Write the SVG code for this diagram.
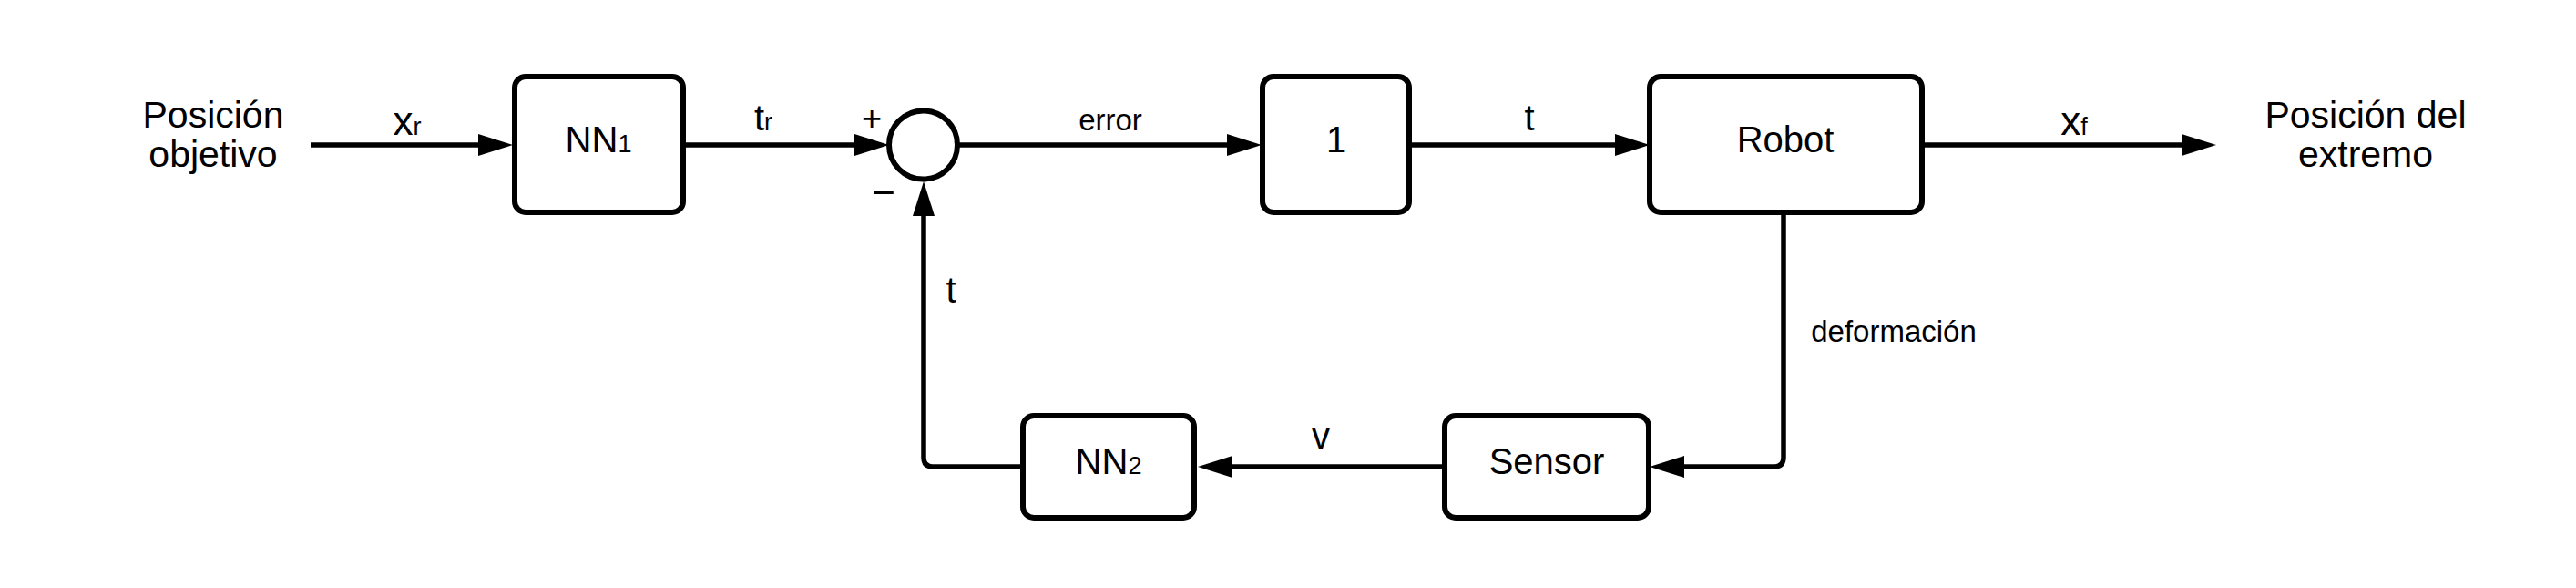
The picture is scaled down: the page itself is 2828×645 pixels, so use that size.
<svg xmlns="http://www.w3.org/2000/svg" width="2828" height="645" viewBox="0 0 2828 645">
  <style>
    text { font-family: "Liberation Sans", Arial, sans-serif; fill: #000; }
    .node rect, .node circle { fill: #fff; stroke: #000; stroke-width: 6; }
    .big { font-size: 41px; text-anchor: middle; }
    .nd { font-size: 40px; text-anchor: middle; }
    .lbl { font-size: 40px; text-anchor: middle; }
    .xl { font-size: 44px; text-anchor: middle; }
    .sm { font-size: 33px; text-anchor: middle; }
    .sub { font-size: 27px; }
    .conn path { fill: none; stroke: #000; stroke-width: 5.5; stroke-linejoin: round; }
  </style>
  <defs>
    <marker id="arr" markerUnits="userSpaceOnUse" markerWidth="40" markerHeight="26" refX="18" refY="12" orient="auto" viewBox="0 0 40 26">
      <path d="M0,0 L38,12 L0,24 z" fill="#000"/>
    </marker>
  </defs>
  <rect width="2828" height="645" fill="#fff"/>

  <g class="conn">
    <path d="M341,159 H543" marker-end="url(#arr)"/>
    <path d="M750,159 H956" marker-end="url(#arr)"/>
    <path d="M1051,159 H1365" marker-end="url(#arr)"/>
    <path d="M1547,159 H1791" marker-end="url(#arr)"/>
    <path d="M2110,159 H2413" marker-end="url(#arr)"/>
    <path d="M1958,233 V502 Q1958,512 1948,512 H1831" marker-end="url(#arr)"/>
    <path d="M1586,512 H1335" marker-end="url(#arr)"/>
    <path d="M1123,512 H1024 Q1014,512 1014,502 V219" marker-end="url(#arr)"/>
  </g>

  <g id="in-label">
    <text class="big" x="234" y="140">Posición</text>
    <text class="big" x="234" y="183">objetivo</text>
  </g>
  <g id="out-label">
    <text class="big" x="2597" y="140">Posición del</text>
    <text class="big" x="2597" y="183">extremo</text>
  </g>

  <g id="nn1" class="node">
    <rect x="565" y="84" width="185" height="149" rx="12"/>
    <text class="nd" x="657" y="167">NN<tspan class="sub">1</tspan></text>
  </g>
  <g id="sum" class="node">
    <circle cx="1013.5" cy="159" r="37.5"/>
    <text class="lbl" x="957" y="143" style="font-size:38px">+</text>
    <text class="lbl" x="970" y="226" style="font-size:44px">−</text>
  </g>
  <g id="gain" class="node">
    <rect x="1386" y="84" width="161" height="149" rx="12"/>
    <text class="nd" x="1467" y="167">1</text>
  </g>
  <g id="robot" class="node">
    <rect x="1811" y="84" width="299" height="149" rx="12"/>
    <text class="nd" x="1960" y="167">Robot</text>
  </g>
  <g id="sensor" class="node">
    <rect x="1586" y="456" width="224" height="112" rx="12"/>
    <text class="nd" x="1698" y="520">Sensor</text>
  </g>
  <g id="nn2" class="node">
    <rect x="1123" y="456" width="188" height="112" rx="12"/>
    <text class="nd" x="1217" y="520">NN<tspan class="sub">2</tspan></text>
  </g>

  <g id="labels">
    <text class="xl" x="447" y="148">x<tspan class="sub">r</tspan></text>
    <text class="lbl" x="838" y="143">t<tspan class="sub">r</tspan></text>
    <text class="sm" x="1219" y="143">error</text>
    <text class="lbl" x="1679" y="143">t</text>
    <text class="xl" x="2277" y="148">x<tspan class="sub">f</tspan></text>
    <text class="lbl" x="1044" y="332">t</text>
    <text class="lbl" x="1450" y="492">v</text>
    <text class="sm" x="2079" y="375">deformación</text>
  </g>
</svg>
